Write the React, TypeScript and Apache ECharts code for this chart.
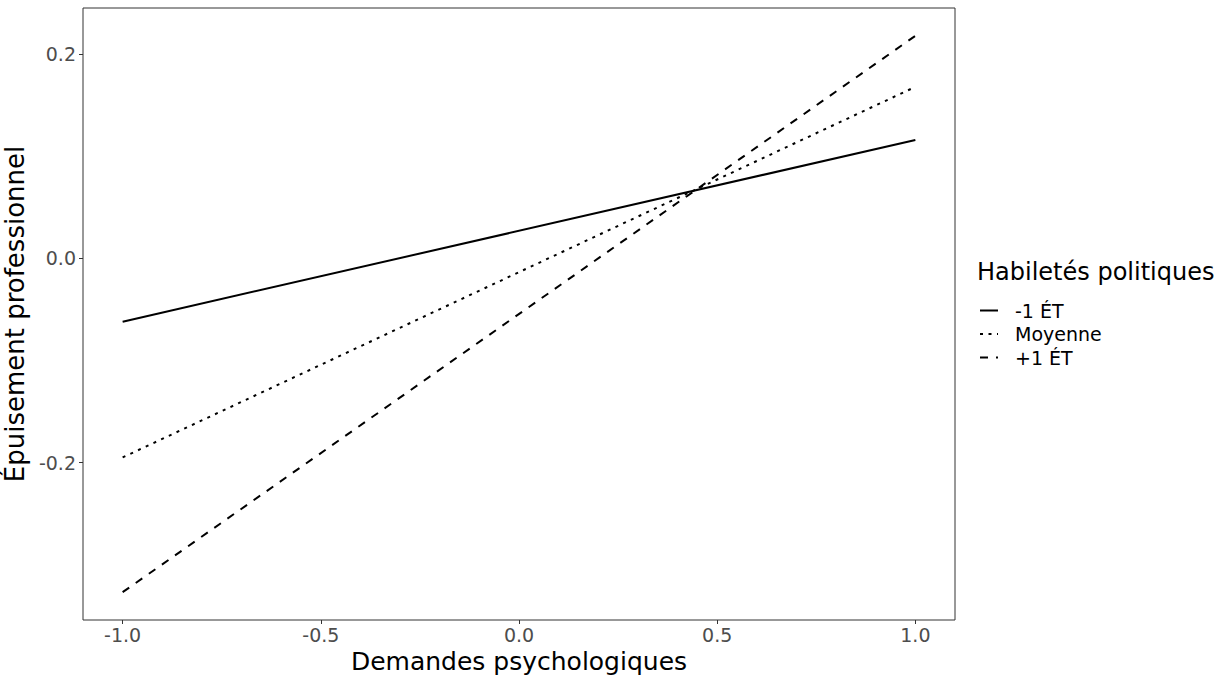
import React, { useEffect, useRef } from "react";
import * as echarts from "echarts";

const xValues = [-1, 1];
const seriesNames = ["-1 ÉT", "Moyenne", "+1 ÉT"];
const lowSD = [-0.062, 0.116];
const meanSD = [-0.195, 0.168];
const highSD = [-0.327, 0.218];
const xTicks = [-1, -0.5, 0, 0.5, 1];
const yTicks = [-0.2, 0, 0.2];

const FONT = "DejaVu Sans";

export default function App() {
  const ref = useRef<HTMLDivElement>(null);
  useEffect(() => {
    if (!ref.current) return;
    const chart = echarts.init(ref.current, undefined, { renderer: "svg" });
    const all = [...lowSD, ...meanSD, ...highSD];
    const yMinD = Math.min(...all);
    const yMaxD = Math.max(...all);
    const yr = yMaxD - yMinD;
    const xr = Math.max(...xValues) - Math.min(...xValues);
    const mk = (vals: number[]) => xValues.map((x, i) => [x, vals[i]]);
    const styles: any[] = ["solid", [3, 5.5], [8, 8]];
    const data = [lowSD, meanSD, highSD];
    chart.setOption({
      animation: false,
      textStyle: { fontFamily: FONT },
      title: {
        text: "Habiletés politiques",
        left: 977,
        top: 260,
        padding: 0,
        textStyle: { fontFamily: FONT, fontSize: 24, fontWeight: "normal", color: "#000" },
      },
      legend: {
        orient: "vertical",
        left: 979,
        top: 301,
        padding: 0,
        itemWidth: 18,
        itemHeight: 14,
        itemGap: 4.5,
        data: seriesNames,
        itemStyle: { opacity: 0 },
        textStyle: { fontFamily: FONT, fontSize: 19, color: "#000", padding: [0, 0, 0, 12] },
      },
      grid: {
        left: 83,
        top: 8,
        right: 276,
        bottom: 61,
        show: true,
        borderColor: "#333",
        borderWidth: 1,
        backgroundColor: "#fff",
        containLabel: false,
        outerBoundsMode: "none",
      },
      xAxis: {
        type: "value",
        min: Math.min(...xValues) - 0.05 * xr,
        max: Math.max(...xValues) + 0.05 * xr,
        name: "Demandes psychologiques",
        nameLocation: "middle",
        nameGap: 29,
        nameTextStyle: { fontFamily: FONT, fontSize: 25, color: "#000" },
        axisLine: { show: false, onZero: false },
        splitLine: { show: false },
        axisTick: { show: true, length: 4, lineStyle: { color: "#333" }, customValues: xTicks },
        axisLabel: {
          customValues: xTicks,
          formatter: (v: number) => v.toFixed(1),
          fontFamily: FONT,
          fontSize: 19,
          color: "#4D4D4D",
          margin: 5,
        },
      },
      yAxis: {
        type: "value",
        min: yMinD - 0.05 * yr,
        max: yMaxD + 0.05 * yr,
        name: "Épuisement professionnel",
        nameLocation: "middle",
        nameGap: 43,
        nameRotate: 90,
        nameTextStyle: { fontFamily: FONT, fontSize: 26, color: "#000" },
        axisLine: { show: false, onZero: false },
        splitLine: { show: false },
        axisTick: { show: true, length: 4, lineStyle: { color: "#333" }, customValues: yTicks },
        axisLabel: {
          customValues: yTicks,
          formatter: (v: number) => v.toFixed(1),
          fontFamily: FONT,
          fontSize: 19,
          color: "#4D4D4D",
          margin: 7,
        },
      },
      series: seriesNames.map((name, i) => ({
        name,
        type: "line",
        data: mk(data[i]),
        symbol: "none",
        showSymbol: false,
        lineStyle: { color: "#000", width: 2, type: styles[i] },
        itemStyle: { color: "#000" },
      })),
    });
    return () => chart.dispose();
  }, []);
  return (
    <div
      ref={ref}
      style={{ position: "fixed", left: 0, top: 0, width: 1231, height: 681, background: "#fff" }}
    />
  );
}
